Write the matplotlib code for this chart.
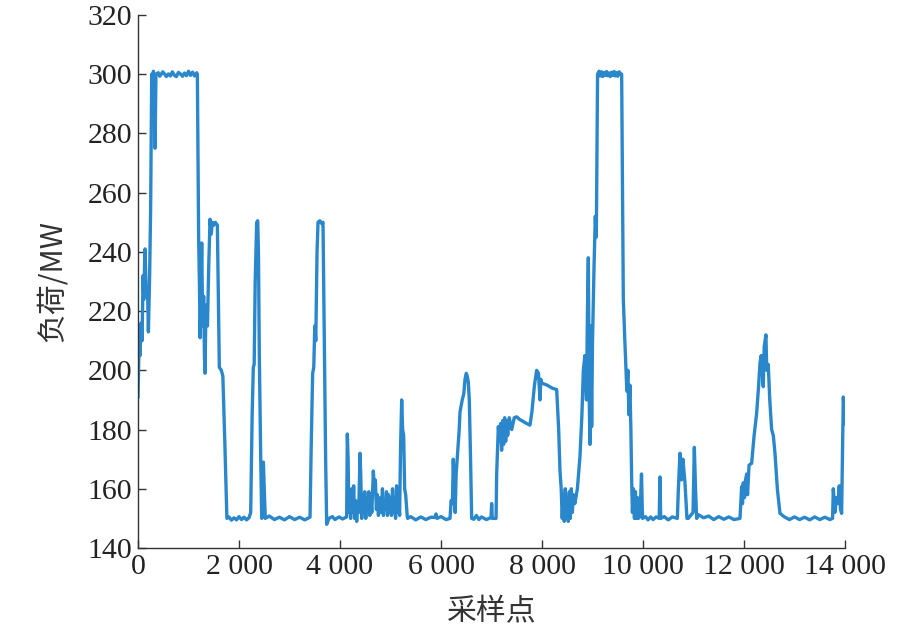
import matplotlib
matplotlib.use("Agg")
import matplotlib.pyplot as plt
import numpy as np

# ---- data: (sample index, load MW), by segment ----
seg_start = [(0,191),(20,208),(40,205),(60,216),(80,210),(100,232),(115,224),(130,236),(139,241),(160,228),
             (190,226),(205,213),(230,232),(250,255),(271,300),(290,285),(305,301),(320,292),(337,275),(355,300),
             (400,300.5),(430,299.3),(450,299.8),(490,300.8),(520,300.2),(560,299.2),(600,300.1),(640,299.4),
             (680,300.8),(720,299.6),(760,299.2),(800,300.6),(840,300.1),(880,299.3),(920,300.4),(960,299.5),
             (1000,301.0),(1040,299.6),(1080,300.7),(1120,299.4),(1162,300.5),(1175,300),(1200,245),(1215,230),
             (1230,211),(1245,225),(1261,243),(1280,215),(1300,225),(1315,205),(1327,199),(1345,222),(1360,220),
             (1375,215),(1400,235),(1426,251),(1450,246),(1470,250),(1500,249),(1530,250),(1571,249),(1590,225),
             (1610,201),(1650,200),(1680,198),(1720,175),(1760,150)]
seg_peaks_a = [(1800,150.5),(1850,149.4),(1900,150.2),(1950,149.5),(2000,150.6),(2050,149.6),(2100,150.4),
               (2150,149.5),(2200,150.3),(2231,152),(2260,185),(2283,201),
               (2300,202),(2320,230),(2350,250),(2370,250.5),(2385,240),(2402,205),(2430,170),(2449,150),(2470,151),
               (2482,169),(2500,160),(2520,150),(2600,150.8),(2700,149.6),(2800,150.4),(2900,149.5),(3000,150.6),
               (3100,149.6),(3200,150.4),(3300,149.5),(3406,150.4),
               (3430,175),(3458,199),(3480,201),(3500,215),(3520,210),(3545,240),(3564,250),(3600,250.5),(3640,249.5),
               (3663,250),(3690,210),(3715,170),(3736,148),(3780,150),(3850,150.6),(3900,149.6),(3980,150.5),
               (4050,149.8),(4131,150.5)]
seg_noise = [(4145,178.5),(4160,170),(4175,152),(4190,158),(4210,150),(4230,160),(4250,152),(4270,161),(4290,150),
             (4310,156),(4330,149),(4350,155),(4370,152),(4396,172),(4410,165),(4430,150),(4450,158),(4470,152),
             (4490,159),(4510,150),(4530,157),(4550,153),(4570,159),(4590,151),(4610,156),(4630,152),(4660,166),
             (4680,160),(4700,163),(4720,153),(4740,158),(4760,151),(4780,155),(4800,157),(4820,152),(4840,160),
             (4860,151),(4880,156),(4900,153),(4920,159),(4940,151),(4960,158),(4980,152),(5000,157),(5020,151),
             (5040,160),(5060,152),(5080,156),(5100,150),(5120,161),(5140,152),(5160,157),(5180,151),(5200,175),
             (5221,190),(5240,180),(5260,178),(5280,160),(5300,158),(5330,151),(5340,150)]
seg_mid = [(5400,150.6),(5500,149.5),(5600,150.5),(5700,149.6),(5800,150.4),(5880,150.3),(5900,151.5),(5920,150),
           (6000,150.6),(6100,149.6),(6178,150),(6200,156),
           (6225,155),(6243,170),(6260,160),(6280,152),(6300,165),(6320,170),(6340,175),(6360,180),(6376,186),
           (6420,190),(6450,192),(6475,197),(6500,199),(6520,198),(6540,196),(6560,190),(6585,170),(6607,150),
           (6650,149.7),(6700,151),(6750,149.6),(6800,150.5),(6900,149.6),(6990,150.3),(7003,155),(7015,150),
           (7090,150)]
seg_rise = [(7102,165),(7135,181),(7160,176),(7180,182),(7200,173),(7220,183),(7240,175),(7260,184),(7280,176),
            (7300,183),(7320,178),(7350,184),(7400,180),(7450,184),(7498,184.3),(7550,183.5),(7600,183),(7700,182),
            (7762,181.5),(7800,186),(7850,195),(7894,200),(7930,199),(7960,190),(7975,197),(7993,195.7),(8100,195),
            (8200,194),(8290,193.5),(8330,180),(8356,166),(8380,160),(8400,150),(8420,158),(8440,149),(8460,160),
            (8480,150),(8500,157),(8520,149),(8540,159),(8560,150),(8580,160),(8600,152),(8620,158),(8650,155),
            (8700,160),(8752,171),(8790,185),(8818,200),(8850,205),(8880,190),(8900,220),(8917,238),(8935,190),
            (8950,175),(8965,215),(8983,181),(9000,210),(9030,235),(9055,252),(9075,245),(9100,300)]
seg_peak_b = [(9130,301),(9150,299.4),(9180,300.8),(9200,299.2),(9230,300.6),(9250,299.6),(9280,300.9),
              (9300,299.5),(9330,300.4),(9350,299.2),(9380,300.7),(9400,299.6),(9430,300.9),(9450,299.4),
              (9480,300.5),(9500,299.3),(9530,300.8),(9560,299.8),(9577,300),(9610,224),(9640,210),(9662,201),
              (9680,193),(9700,200),
              (9720,185),(9740,195),(9760,180),(9775,163),(9790,152),(9810,160),(9830,150),(9850,159),(9870,150),
              (9890,157),(9910,150),(9940,151),(9970,165),(9990,150),(10050,150.6),(10100,149.5),(10150,150.5),
              (10200,149.6),(10260,150.5),(10320,150),
              (10336,164),(10350,150),(10420,150.6),(10500,149.5),(10580,150.5),(10680,150),(10700,160),(10732,172),
              (10760,163),(10790,170),
              (10831,162),(10870,150),(10897,150),(10990,152),(11016,174),(11040,160),(11062,150)]
seg_end = [(11100,151.2),(11200,150.2),(11300,150.8),(11400,149.6),(11500,150.6),(11600,149.7),(11700,150.5),
           (11800,149.6),(11920,150),(11953,160.7),(11970,155),(11985,162),
           (12010,157),(12030,163),(12052,165),(12070,158),(12100,168),(12151,168.6),(12200,178),(12250,185.5),
           (12290,195),(12316,202.4),(12340,205),(12360,200),(12381,194.5),(12400,208),(12434,212),(12450,200),
           (12480,202),(12510,190),(12547,180),(12580,178),(12613,172),(12660,160),(12712,151.7),(12800,150.5),
           (12900,149.6),(13000,150.5),(13100,149.6),(13200,150.4),(13300,149.5),(13400,150.5),(13500,149.6),
           (13600,150.4),(13700,149.6),(13754,150),(13768,160),(13800,152),
           (13830,157),(13860,155),(13886,161),(13910,153),(13933,151.7),(13966,191),(14000,182)]

x_ticks = [0, 2000, 4000, 6000, 8000, 10000, 12000, 14000]
x_tick_labels = ["0", "2 000", "4 000", "6 000", "8 000", "10 000", "12 000", "14 000"]
y_ticks = [140, 160, 180, 200, 220, 240, 260, 280, 300, 320]
x_label = "采样点"
y_label = "负荷/MW"

pts = np.array(seg_start + seg_peaks_a + seg_noise + seg_mid + seg_rise + seg_peak_b + seg_end)

fig = plt.figure(figsize=(9.22, 6.32), dpi=100)
ax = fig.add_axes([0.1497, 0.1329, 0.9165 - 0.1497, 0.9763 - 0.1329])
ax.plot(pts[:, 0], pts[:, 1], color="#2a87cb", lw=2.4, solid_joinstyle="round")

ax.set_xlim(0, 14000)
ax.set_ylim(140, 320)
ax.set_xticks(x_ticks)
ax.set_xticklabels(x_tick_labels)
ax.set_yticks(y_ticks)
for s in ("top", "right"):
    ax.spines[s].set_visible(False)
for s in ("left", "bottom"):
    ax.spines[s].set_color("#333333")
    ax.spines[s].set_linewidth(1.0)
ax.tick_params(direction="in", length=6, width=1.0, color="#333333", pad=4,
               labelsize=21.5, labelcolor="#222222")
for lab in ax.get_xticklabels() + ax.get_yticklabels():
    lab.set_fontfamily(["Liberation Serif", "DejaVu Serif"])

ax.set_xlabel(x_label, fontsize=21.5, family=["Noto Sans CJK SC", "DejaVu Sans"], color="#333333", labelpad=12)
ax.set_ylabel(y_label, fontsize=21.5, family=["Noto Sans CJK SC", "Liberation Serif"], color="#333333", labelpad=14)

fig.savefig("out.png", dpi=100)
